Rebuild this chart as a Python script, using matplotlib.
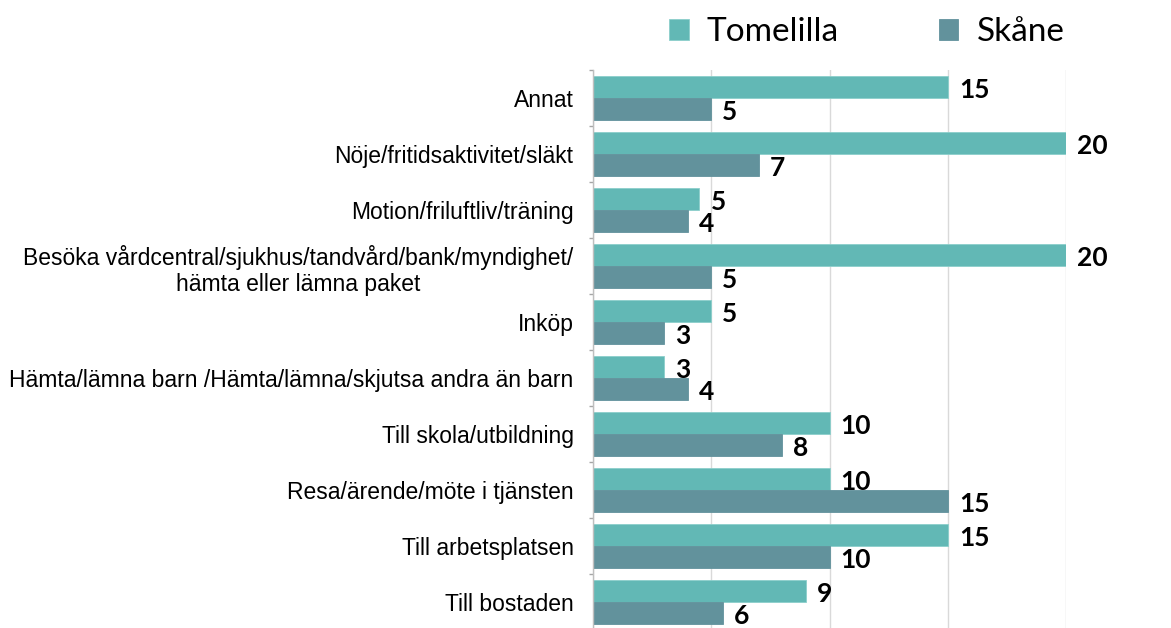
import numpy as np
import matplotlib
matplotlib.use("Agg")
import matplotlib.pyplot as plt

# Data (top to bottom as in the chart)
kategorier = [
    "Annat",
    "Nöje/fritidsaktivitet/släkt",
    "Motion/friluftliv/träning",
    "Besöka vårdcentral/sjukhus/tandvård/bank/myndighet/\nhämta eller lämna paket",
    "Inköp",
    "Hämta/lämna barn /Hämta/lämna/skjutsa andra än barn",
    "Till skola/utbildning",
    "Resa/ärende/möte i tjänsten",
    "Till arbetsplatsen",
    "Till bostaden",
]
tomelilla = [15, 20, 4.5, 20, 5, 3, 10, 10, 15, 9]
skane = [5, 7, 4, 5, 3, 4, 8, 15, 10, 5.5]
serier = ["Tomelilla", "Skåne"]

farg_tomelilla = "#62b8b5"
farg_skane = "#62929c"

fig = plt.figure(figsize=(11.71, 6.28), dpi=100)
ax = fig.add_axes([593 / 1171, 1 - 630 / 628, (1066 - 593) / 1171, (630 - 70) / 628])

y = np.arange(len(kategorier))
h = 0.39

b1 = ax.barh(y - h / 2, tomelilla, height=h, color=farg_tomelilla,
             edgecolor="#8ccfcb", linewidth=0.6, label=serier[0])
b2 = ax.barh(y + h / 2, skane, height=h, color=farg_skane,
             edgecolor="#62929c", linewidth=0.6, label=serier[1])

# värdeetiketter (avrundade)
for bars, vals in [(b1, tomelilla), (b2, skane)]:
    for bar, v in zip(bars, vals):
        ax.annotate(str(int(np.floor(v + 0.5))),
                    xy=(bar.get_width(), bar.get_y() + bar.get_height() / 2),
                    xytext=(8, -2), textcoords="offset points",
                    ha="left", va="center", fontsize=19, fontweight="bold",
                    family="Lato", color="black", annotation_clip=False)

ax.set_xlim(0, 20)
ax.set_ylim(len(kategorier) - 0.5, -0.5)
ax.set_xticks([0, 5, 10, 15, 20])
ax.xaxis.grid(True, color="#d9d9d9", linewidth=1)
ax.set_axisbelow(True)
ax.tick_params(axis="x", length=0, labelbottom=False)

ax.set_yticks(y)
ax.set_yticklabels(kategorier, fontsize=16.5, family="Liberation Sans")
ax.set_yticks(np.arange(-0.5, len(kategorier), 1), minor=True)
ax.tick_params(axis="y", which="major", length=0, pad=14)
ax.tick_params(axis="y", which="minor", length=3, color="#a6a6a6", width=1)
for lbl in ax.get_yticklabels():
    lbl.set_multialignment("center")

for s in ["top", "right", "bottom"]:
    ax.spines[s].set_visible(False)
ax.spines["left"].set_color("#bfbfbf")
ax.spines["left"].set_linewidth(1)

fig.legend(handles=[b1, b2], labels=serier, loc="center",
           bbox_to_anchor=(867 / 1171, 1 - 32 / 628), ncol=2, frameon=False,
           prop={"family": "Lato", "size": 24}, handlelength=0.58,
           handleheight=0.6, handletextpad=0.55, columnspacing=3.0,
           borderpad=0)

fig.savefig("out.png", dpi=100)
